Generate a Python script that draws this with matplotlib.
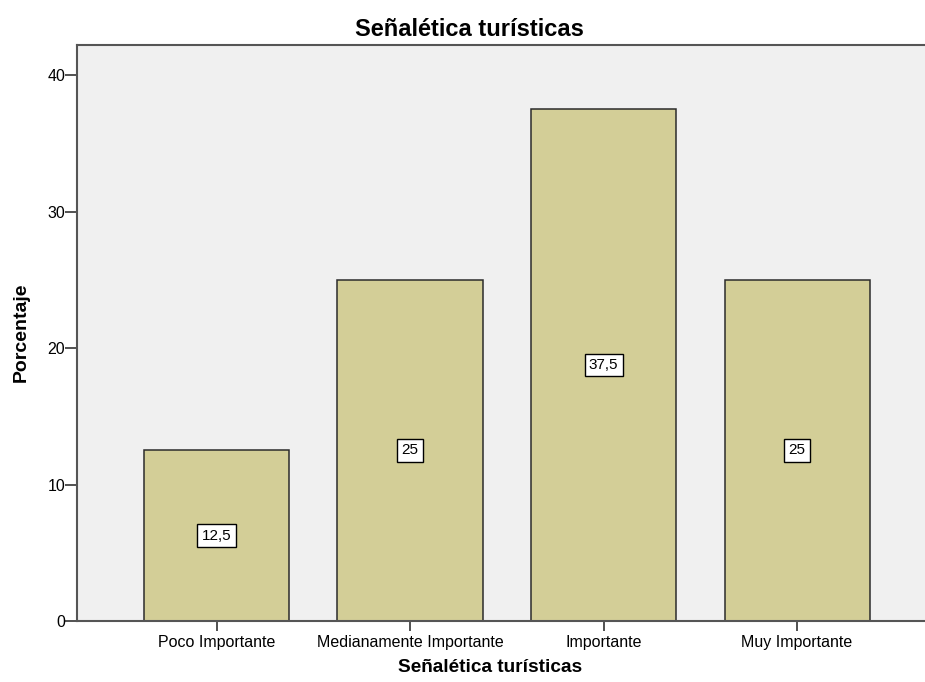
import matplotlib
matplotlib.use("Agg")
import matplotlib.pyplot as plt

categories = ["Poco Importante", "Medianamente Importante", "Importante", "Muy Importante"]
values = [12.5, 25, 37.5, 25]
value_labels = ["12,5", "25", "37,5", "25"]
title = "Señalética turísticas"
xlabel = "Señalética turísticas"
ylabel = "Porcentaje"

plt.rcParams['font.family'] = ['Liberation Sans', 'DejaVu Sans']

fig = plt.figure(figsize=(9.25, 6.82), dpi=100)
ax = fig.add_axes([77/925, 61/682, 848/925, 576/682])
ax.set_facecolor('#F0F0F0')

x = list(range(len(categories)))
ax.bar(x, values, width=0.75, color='#D3CE97', edgecolor='#2b2b2b', linewidth=1.1, zorder=2)
for xi, v, lab in zip(x, values, value_labels):
    ax.text(xi, v / 2, lab, ha='center', va='center', fontsize=11, color='black', zorder=3,
            bbox=dict(boxstyle='square,pad=0.28', facecolor='white', edgecolor='black', linewidth=1.0))

ax.set_xlim(-0.721, 3.661)
ax.set_ylim(0, 42.2)
ax.set_yticks([0, 10, 20, 30, 40])
ax.set_xticks(x)
ax.set_xticklabels(categories, fontsize=11.5)
ax.tick_params(axis='y', labelsize=11.5, length=8.5, width=1.2, color='#333333', pad=0)
ax.tick_params(axis='x', length=7, width=1.2, color='#333333', pad=3)

for s in ['left', 'bottom', 'top']:
    ax.spines[s].set_color('#555555')
    ax.spines[s].set_linewidth(1.5)
ax.spines['right'].set_visible(False)

fig.text(469.5/925, 1 - 30/682, title, ha='center', va='center', fontsize=17, fontweight='bold')
ax.set_xlabel(xlabel, fontsize=13.7, fontweight='bold')
ax.xaxis.set_label_coords((490.5 - 77) / 848, -(668 - 621) / 576)
ax.xaxis.label.set_va('center')
ax.set_ylabel(ylabel, fontsize=14, fontweight='bold')
ax.yaxis.set_label_coords(-(77 - 21) / 848, (621 - 332) / 576)
ax.yaxis.label.set_va('center')

fig.savefig('out.png', dpi=100)
